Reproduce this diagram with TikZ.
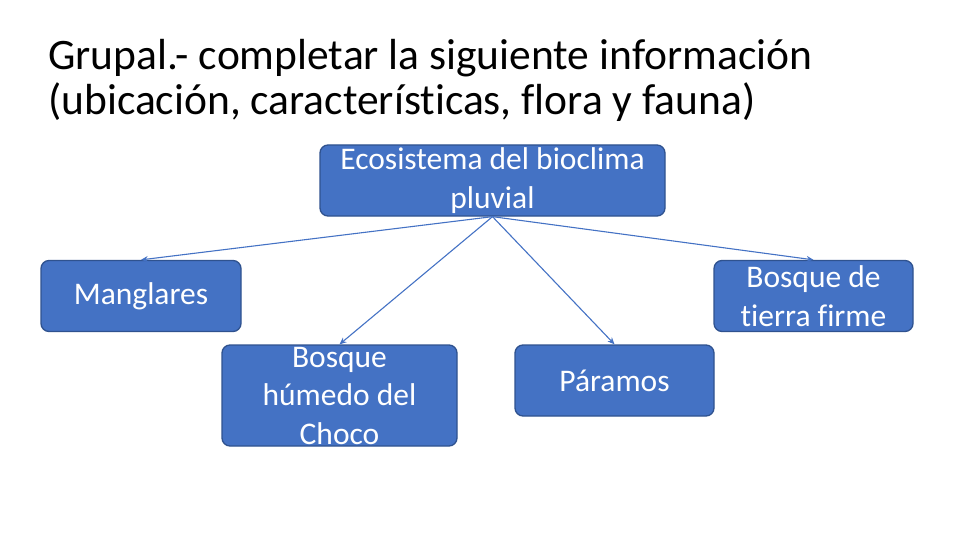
\documentclass[tikz,border=0pt]{standalone}
\usepackage{fontspec}
\setmainfont{Carlito}[Ligatures=NoCommon]
\usepackage{tikz}
\usetikzlibrary{arrows.meta, positioning}
\definecolor{officeblue}{RGB}{68,114,196}
\definecolor{edgeblue}{RGB}{47,82,143}

\begin{document}
\begin{tikzpicture}[
  x=1pt, y=-1pt,
  box/.style={draw=edgeblue, line width=1.3pt, rounded corners=8pt, fill=officeblue,
              text=white, align=center, inner sep=0pt,
              font=\fontsize{31.5}{38.5}\selectfont},
  arr/.style={-{Stealth[length=7pt, width=6pt]}, line width=1.1pt, officeblue},
  heading/.style={anchor=base west, inner sep=0pt, font=\fontsize{43.5}{45}\selectfont}
]
\useasboundingbox (0,0) rectangle (960,540);

\node[heading] (title) at (48,70) {Grupal.- completar la siguiente información};
\node[heading] (subtitle) at (48,115) {(ubicación, características, flora y fauna)};

\node[box, minimum width=345, minimum height=71] (eco) at (492.5,180.5) {Ecosistema del bioclima\\pluvial};
\node[box, minimum width=200, minimum height=71] (mang) at (141,296) {Manglares};
\node[box, minimum width=199, minimum height=71] (tierra) at (813.5,296) {Bosque de\\tierra firme};
\node[box, minimum width=235, minimum height=101] (humedo) at (339.5,395.5) {Bosque\\húmedo del\\Choco};
\node[box, minimum width=199, minimum height=71] (paramos) at (614.5,380.5) {Páramos};

\draw[arr] (eco.south) -- (mang.north);
\draw[arr] (eco.south) -- (tierra.north);
\draw[arr] (eco.south) -- (humedo.north);
\draw[arr] (eco.south) -- (paramos.north);
\end{tikzpicture}
\end{document}
